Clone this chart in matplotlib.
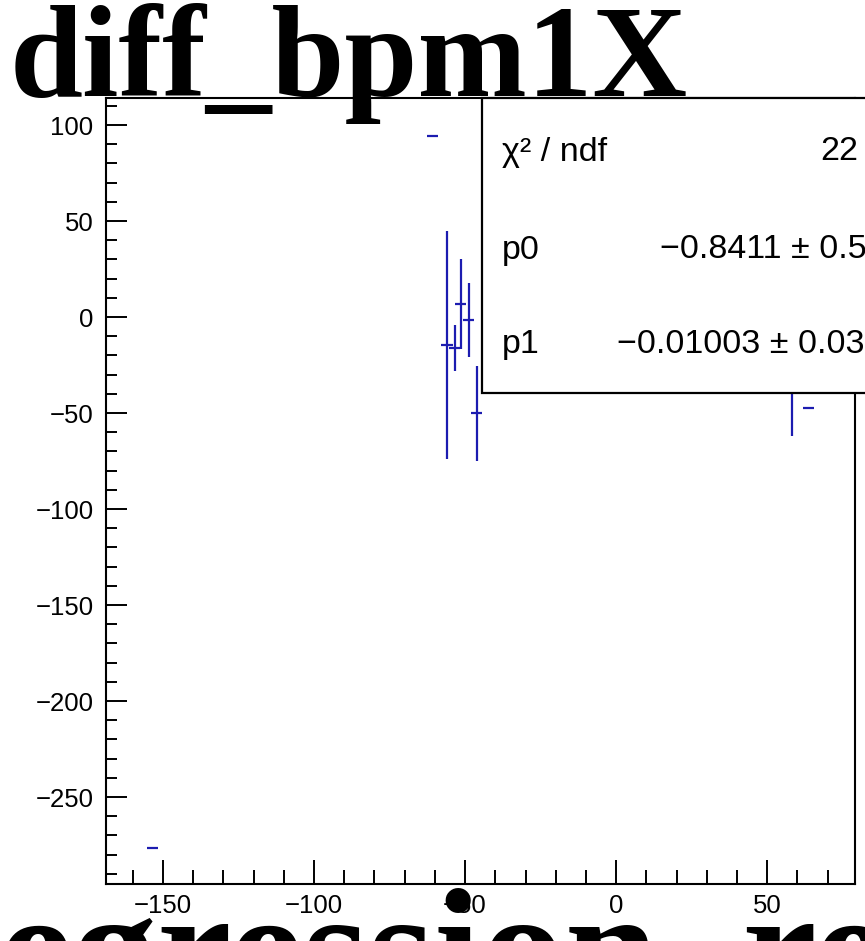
import matplotlib
matplotlib.use("Agg")
import matplotlib.pyplot as plt
from matplotlib.patches import Rectangle
from matplotlib.ticker import MultipleLocator

# data points
x_vals = [-153.5, -60.8, -55.9, -53.4, -51.5, -48.8, -46.1, 58.4, 63.7]
y_vals = [-276.7, 94.3, -14.5, -16.3, 6.8, -1.6, -50.2, -34.0, -47.6]
x_errs = [1.7, 1.7, 2.0, 1.8, 1.8, 1.8, 1.8, 1.8, 1.7]
y_errs = [0.0, 0.0, 59.5, 12.0, 23.2, 19.4, 24.7, 28.0, 0.0]

title_text = "diff_bpm1X"
bottom_text = "regression_re"
stat_labels = ["\u03c7\u00b2 / ndf", "p0", "p1"]
stat_values = ["22", "\u22120.8411 \u00b1 0.5", "\u22120.01003 \u00b1 0.03"]

W, H = 865, 941


def fx(px):
    return px / W


def fy(py):
    return 1 - py / H


plt.rcParams['font.family'] = ['Liberation Sans', 'DejaVu Sans']

fig = plt.figure(figsize=(W / 100, H / 100), dpi=100)
ax = fig.add_axes([fx(106), fy(884), fx(855) - fx(106), fy(98) - fy(884)])

ax.errorbar(x_vals, y_vals, xerr=x_errs, yerr=y_errs, fmt='none',
            ecolor='#1c1cb0', elinewidth=1.6, capsize=0)

ax.set_xlim(-168.9, 79.1)
ax.set_ylim(-295.3, 114.1)

ax.xaxis.set_major_locator(MultipleLocator(50))
ax.xaxis.set_minor_locator(MultipleLocator(10))
ax.yaxis.set_major_locator(MultipleLocator(50))
ax.yaxis.set_minor_locator(MultipleLocator(10))
ax.tick_params(axis='x', which='major', direction='in', length=17, width=1.4,
               labelsize=18.5, pad=7, colors='black')
ax.tick_params(axis='x', which='minor', direction='in', length=10, width=1.4)
ax.tick_params(axis='y', which='major', direction='in', length=15, width=1.4,
               labelsize=18.5, pad=9, colors='black')
ax.tick_params(axis='y', which='minor', direction='in', length=8, width=1.4)
for s in ax.spines.values():
    s.set_linewidth(1.5)

# stats box
box = Rectangle((fx(482), fy(393)), fx(900) - fx(482), fy(98) - fy(393),
                transform=fig.transFigure, facecolor='white', edgecolor='black',
                linewidth=1.6, zorder=5)
fig.add_artist(box)
rows_y = [152, 250, 345]
value_x = [820, 660, 617]
for lab, val, ry, vx in zip(stat_labels, stat_values, rows_y, value_x):
    fig.text(fx(502), fy(ry), lab, fontsize=24.5, va='center', ha='left', zorder=6)
    fig.text(fx(vx), fy(ry), val, fontsize=24.5, va='center', ha='left', zorder=6)

fig.text(fx(10), fy(96), title_text, fontfamily='Liberation Serif',
         fontweight='bold', fontsize=94.5, va='baseline', ha='left', zorder=7)
fig.text(fx(-72), fy(1004), bottom_text, fontfamily='Liberation Serif',
         fontweight='bold', fontsize=121, va='baseline', ha='left', zorder=7)

fig.savefig("out.png", dpi=100)
